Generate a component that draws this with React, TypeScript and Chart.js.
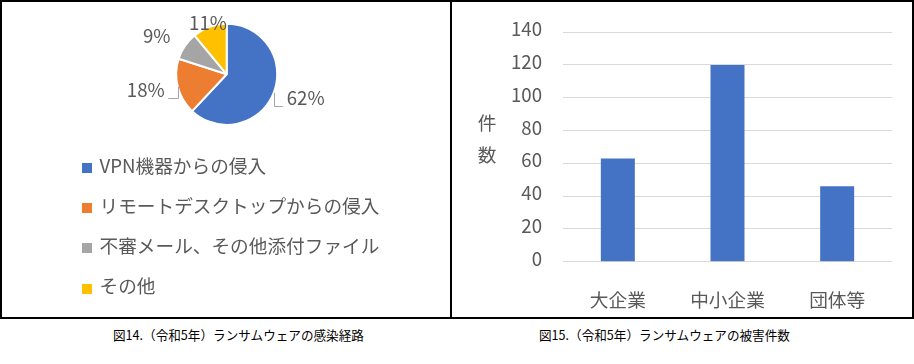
import React, { useEffect, useRef } from 'react';
import { Chart, registerables } from 'chart.js';

Chart.register(...registerables);

const FONT = '"Noto Sans CJK JP", "Noto Sans", sans-serif';
const TEXT_GREY = '#595959';

// ---- Figure 14: infection routes (pie) ----
const routeLabels = [
  'VPN機器からの侵入',
  'リモートデスクトップからの侵入',
  '不審メール、その他添付ファイル',
  'その他',
];
const routeShares = [62, 18, 9, 11];
const routeColors = ['#4472C4', '#ED7D31', '#A5A5A5', '#FFC000'];
const routeLabelGap = [14, 13.5, 17.5, 4.5];
const routeLeader = [true, true, false, false];

// ---- Figure 15: damage counts (bar) ----
const sizeLabels = ['大企業', '中小企業', '団体等'];
const sizeCounts = [63, 120, 46];
const yMin = 0;
const yMax = 140;
const yStep = 20;
const yTitleChars = ['件', '数'];

const captionLeft = '図14.（令和5年）ランサムウェアの感染経路';
const captionRight = '図15.（令和5年）ランサムウェアの被害件数';

const pieLabelPlugin = {
  id: 'pieLabels',
  afterDatasetsDraw(chart: any) {
    const ctx = chart.ctx;
    const meta = chart.getDatasetMeta(0);
    const values: number[] = chart.data.datasets[0].data;
    const total = values.reduce((a, b) => a + b, 0);
    ctx.save();
    ctx.font = `18.67px ${FONT}`;
    ctx.textBaseline = 'middle';
    meta.data.forEach((arc: any, i: number) => {
      const p = arc.getProps(['x', 'y', 'startAngle', 'endAngle', 'outerRadius'], true);
      const mid = (p.startAngle + p.endAngle) / 2;
      const c = Math.cos(mid);
      const s = Math.sin(mid);
      const R = p.outerRadius + routeLabelGap[i];
      const lx = p.x + R * c;
      const ly = p.y + R * s;
      const align = Math.abs(c) < 0.5 ? 'center' : c > 0 ? 'left' : 'right';
      const text = Math.round((values[i] / total) * 100) + '%';
      ctx.textAlign = align;
      ctx.fillStyle = TEXT_GREY;
      ctx.fillText(text, lx, ly);
      if (routeLeader[i]) {
        const ex = p.x + p.outerRadius * c;
        const ey = p.y + p.outerRadius * s;
        const by = ly + 7.5;
        const tx = align === 'left' ? lx - 3.5 : lx + 3.5;
        ctx.strokeStyle = '#A6A6A6';
        ctx.lineWidth = 1;
        ctx.beginPath();
        ctx.moveTo(Math.round(ex) + 0.5, ey);
        ctx.lineTo(Math.round(ex) + 0.5, Math.round(by) + 0.5);
        ctx.lineTo(tx, Math.round(by) + 0.5);
        ctx.stroke();
      }
    });
    ctx.restore();
  },
};

const pieLegendPlugin = {
  id: 'pieLegend',
  afterDraw(chart: any) {
    const ctx = chart.ctx;
    const labels: string[] = chart.data.labels;
    const colors: string[] = chart.data.datasets[0].backgroundColor;
    const top = chart.chartArea.bottom + 39.4;
    ctx.save();
    ctx.font = `18.67px ${FONT}`;
    ctx.textBaseline = 'middle';
    ctx.textAlign = 'left';
    labels.forEach((lab, i) => {
      const cy = top + i * 40.2;
      ctx.fillStyle = colors[i];
      ctx.fillRect(82, Math.round(cy - 5), 10, 10);
      ctx.fillStyle = TEXT_GREY;
      ctx.fillText(lab, 99.5, cy - 2.2);
    });
    ctx.restore();
  },
};

const yTitlePlugin = {
  id: 'yTitle',
  afterDraw(chart: any) {
    const ctx = chart.ctx;
    const x = chart.scales.y.left + 35;
    ctx.save();
    ctx.font = `18.67px ${FONT}`;
    ctx.fillStyle = TEXT_GREY;
    ctx.textAlign = 'center';
    ctx.textBaseline = 'middle';
    yTitleChars.forEach((ch, i) => {
      ctx.fillText(ch, x, 123 + i * 32);
    });
    ctx.restore();
  },
};

function PieChart() {
  const ref = useRef<HTMLCanvasElement>(null);
  useEffect(() => {
    if (!ref.current) return;
    const chart = new Chart(ref.current, {
      type: 'pie',
      data: {
        labels: routeLabels,
        datasets: [
          {
            data: routeShares,
            backgroundColor: routeColors,
            borderColor: '#FFFFFF',
            borderWidth: 2,
            radius: 50.5,
          } as any,
        ],
      },
      options: {
        animation: false,
        responsive: false,
        events: [],
        layout: { padding: { left: 20, right: 16.6, top: 20, bottom: 189.4 } },
        plugins: {
          legend: { display: false },
          tooltip: { enabled: false },
        },
      },
      plugins: [pieLabelPlugin, pieLegendPlugin],
    });
    return () => chart.destroy();
  }, []);
  return (
    <canvas
      ref={ref}
      width={450}
      height={318}
      style={{ position: 'absolute', left: 0, top: 0, width: 450, height: 318 }}
    />
  );
}

function BarChart() {
  const ref = useRef<HTMLCanvasElement>(null);
  useEffect(() => {
    if (!ref.current) return;
    const chart = new Chart(ref.current, {
      type: 'bar',
      data: {
        labels: sizeLabels,
        datasets: [
          {
            data: sizeCounts,
            backgroundColor: '#4472C4',
            categoryPercentage: 1,
            barPercentage: 0.31,
          },
        ],
      },
      options: {
        animation: false,
        responsive: false,
        events: [],
        layout: { padding: { left: 0, right: 20, top: 30.7, bottom: 0 } },
        plugins: {
          legend: { display: false },
          tooltip: { enabled: false },
        },
        scales: {
          x: {
            grid: { display: false },
            border: { display: false },
            ticks: {
              color: TEXT_GREY,
              font: { family: FONT, size: 18.67 },
              padding: 19,
              maxRotation: 0,
            },
            afterFit: (scale: any) => {
              scale.height = 56.3;
            },
          },
          y: {
            min: yMin,
            max: yMax,
            border: { display: false },
            grid: { color: '#D9D9D9', lineWidth: 1, drawTicks: false },
            ticks: {
              stepSize: yStep,
              color: TEXT_GREY,
              font: { family: FONT, size: 18.67 },
              padding: 21,
              labelOffset: -3,
            },
            afterFit: (scale: any) => {
              scale.width = 111;
            },
          },
        },
      },
      plugins: [yTitlePlugin],
    });
    return () => chart.destroy();
  }, []);
  return (
    <canvas
      ref={ref}
      width={460}
      height={318}
      style={{ position: 'absolute', left: 452, top: 0, width: 460, height: 318 }}
    />
  );
}

const line = (s: React.CSSProperties): React.CSSProperties => ({
  position: 'absolute',
  background: '#000',
  zIndex: 2,
  ...s,
});

export default function App() {
  return (
    <div
      style={{
        position: 'absolute',
        left: 0,
        top: 0,
        width: 914,
        height: 364,
        background: '#fff',
        overflow: 'hidden',
        fontFamily: FONT,
      }}
    >
      <PieChart />
      <BarChart />
      <div style={line({ left: 0, top: 0, width: 914, height: 2 })} />
      <div style={line({ left: 0, top: 317, width: 914, height: 2 })} />
      <div style={line({ left: 0, top: 0, width: 2, height: 319 })} />
      <div style={line({ left: 450, top: 0, width: 2, height: 319 })} />
      <div style={line({ left: 912, top: 0, width: 2, height: 319 })} />
      <div
        style={{
          position: 'absolute',
          left: 113,
          top: 326,
          fontSize: 12.6,
          lineHeight: '18px',
          whiteSpace: 'nowrap',
          color: '#000',
        }}
      >
        {captionLeft}
      </div>
      <div
        style={{
          position: 'absolute',
          left: 539,
          top: 326,
          fontSize: 12.6,
          lineHeight: '18px',
          whiteSpace: 'nowrap',
          color: '#000',
        }}
      >
        {captionRight}
      </div>
    </div>
  );
}
